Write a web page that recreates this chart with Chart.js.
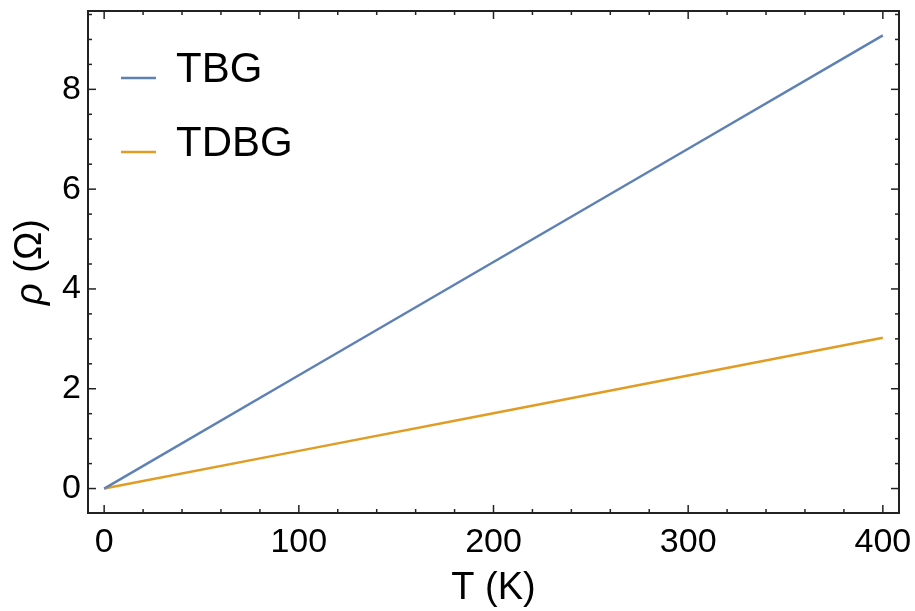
<!DOCTYPE html>
<html>
<head>
<meta charset="utf-8">
<script src="https://cdn.jsdelivr.net/npm/chart.js@4.4.1/dist/chart.umd.min.js"></script>
<style>
  html, body { margin: 0; padding: 0; background: #fff; }
  #wrap { width: 915px; height: 611px; position: relative; }
</style>
</head>
<body>
<div id="wrap"><canvas id="rhoChart"></canvas></div>
<script>
// resistivity vs temperature, twisted bilayer / double bilayer graphene
const temps = [0, 100, 200, 300, 400];
const rhoTBG = [0, 2.27, 4.54, 6.81, 9.08];
const rhoTDBG = [0, 0.755, 1.51, 2.265, 3.02];
const seriesNames = ['TBG', 'TDBG'];
const xTicks = [0, 100, 200, 300, 400];
const yTicks = [0, 2, 4, 6, 8];

const FONT = '"Liberation Sans", Arial, sans-serif';
const blue = '#5e81b5';
const orange = '#e19c24';
const frameColor = '#222';

const toPoints = ys => temps.map((t, i) => ({ x: t, y: ys[i] }));

// keep the plot box fixed: no extra room for overhanging tick labels
const noPad = s => {
    s.paddingTop = 0;
    s.paddingBottom = 0;
    s.paddingLeft = 0;
    s.paddingRight = 0;
};

// frame with inward ticks on every side + inset legend
const framePlugin = {
    id: 'frame',
    afterDatasetsDraw(chart) {
        const { ctx, chartArea: a, scales: { x, y } } = chart;
        ctx.save();
        ctx.strokeStyle = frameColor;
        ctx.lineWidth = 2;
        ctx.strokeRect(a.left, a.top, a.right - a.left, a.bottom - a.top);

        ctx.lineWidth = 1.5;
        const seg = (x1, y1, x2, y2) => {
            ctx.beginPath();
            ctx.moveTo(x1, y1);
            ctx.lineTo(x2, y2);
            ctx.stroke();
        };
        for (let v = 0; v <= x.max; v += 20) {
            const px = x.getPixelForValue(v);
            const len = xTicks.includes(v) ? 8 : 4;
            seg(px, a.bottom, px, a.bottom - len);
            seg(px, a.top, px, a.top + len);
        }
        for (let v = 0; v <= y.max; v += 0.5) {
            const py = y.getPixelForValue(v);
            const len = yTicks.includes(v) ? 8 : 4;
            seg(a.left, py, a.left + len, py);
            seg(a.right, py, a.right - len, py);
        }

        // legend
        ctx.font = '42px ' + FONT;
        ctx.fillStyle = '#000';
        ctx.textBaseline = 'alphabetic';
        ctx.textAlign = 'left';
        chart.data.datasets.forEach((ds, i) => {
            const ly = a.top + 67 + i * 74;
            ctx.strokeStyle = ds.borderColor;
            ctx.lineWidth = 2.5;
            seg(a.left + 33, ly, a.left + 68, ly);
            ctx.fillText(ds.label, a.left + 88, ly + 4);
        });
        ctx.restore();
    },
    afterDraw(chart) {
        // y title: italic rho followed by upright unit
        const { ctx, chartArea: a } = chart;
        const rho = 'ρ', unit = ' (Ω)';
        ctx.save();
        ctx.fillStyle = '#000';
        ctx.textBaseline = 'middle';
        ctx.font = 'italic 38px ' + FONT;
        const w1 = ctx.measureText(rho).width;
        ctx.font = '38px ' + FONT;
        const w2 = ctx.measureText(unit).width;
        ctx.translate(31, (a.top + a.bottom) / 2);
        ctx.rotate(-Math.PI / 2);
        ctx.textAlign = 'left';
        ctx.font = 'italic 38px ' + FONT;
        ctx.fillText(rho, -(w1 + w2) / 2, 0);
        ctx.font = '38px ' + FONT;
        ctx.fillText(unit, -(w1 + w2) / 2 + w1, 0);
        ctx.restore();
    }
};

new Chart(document.getElementById('rhoChart'), {
    type: 'line',
    data: {
        datasets: [{
            label: seriesNames[0],
            data: toPoints(rhoTBG),
            borderColor: blue,
            borderWidth: 2.5,
            pointRadius: 0,
            fill: false
        }, {
            label: seriesNames[1],
            data: toPoints(rhoTDBG),
            borderColor: orange,
            borderWidth: 2.5,
            pointRadius: 0,
            fill: false
        }]
    },
    options: {
        responsive: true,
        maintainAspectRatio: false,
        animation: false,
        layout: { padding: { top: 11, right: 16, left: 0, bottom: 0 } },
        plugins: {
            legend: { display: false },
            tooltip: { enabled: false }
        },
        scales: {
            x: {
                type: 'linear',
                min: -8.3,
                max: 408.3,
                afterBuildTicks: s => { s.ticks = xTicks.map(v => ({ value: v })); },
                afterFit: s => { s.height = 98; noPad(s); },
                grid: { display: false, drawTicks: false },
                border: { display: false },
                ticks: { font: { family: FONT, size: 34 }, color: '#000', padding: 9, maxRotation: 0, autoSkip: false },
                title: { display: true, text: 'T (K)', font: { family: FONT, size: 38 }, color: '#000', padding: 0 }
            },
            y: {
                min: -0.49,
                max: 9.57,
                afterBuildTicks: s => { s.ticks = yTicks.map(v => ({ value: v })); },
                afterFit: s => { s.width = 88; noPad(s); },
                grid: { display: false, drawTicks: false },
                border: { display: false },
                ticks: { font: { family: FONT, size: 34 }, color: '#000', padding: 7 }
            }
        }
    },
    plugins: [framePlugin]
});
</script>
</body>
</html>
